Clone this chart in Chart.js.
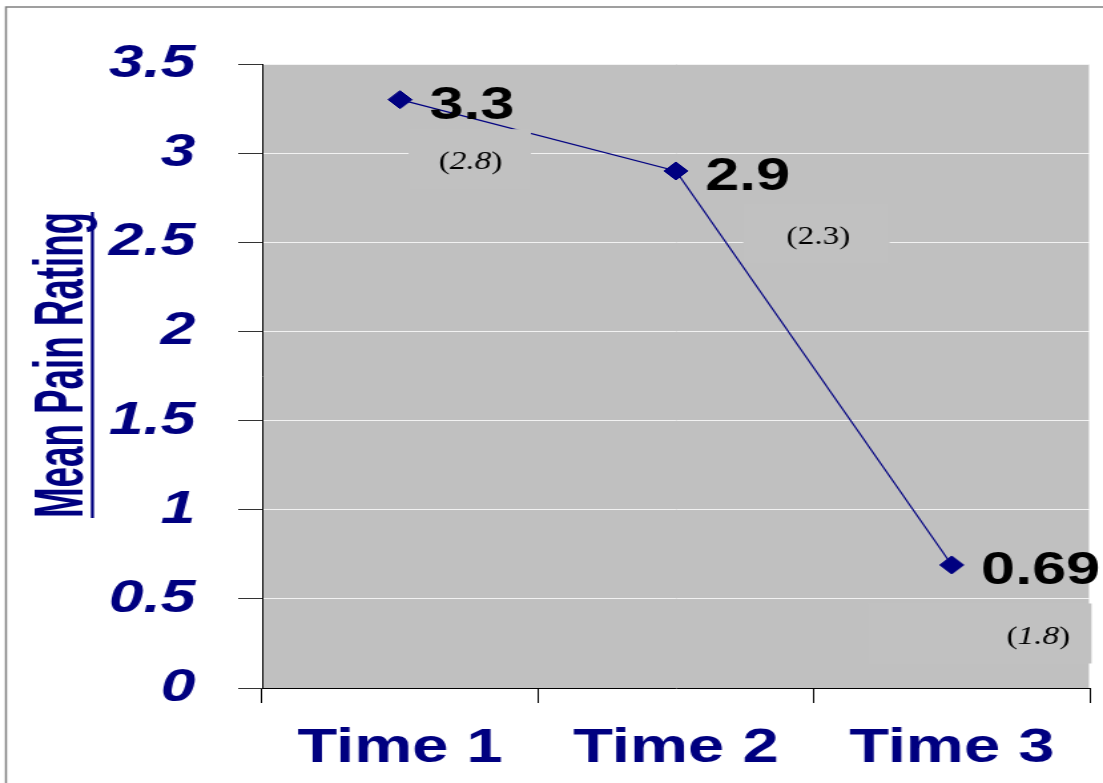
<!DOCTYPE html>
<html>
<head>
<meta charset="utf-8">
<title>Mean Pain Rating</title>
<script src="https://cdn.jsdelivr.net/npm/chart.js@4.4.1/dist/chart.umd.min.js"></script>
<style>
  html, body { margin: 0; padding: 0; background: #fff; overflow: hidden; }
  #painChart { display: block; }
</style>
</head>
<body>
<!-- the original picture is stretched sideways, so the canvas is drawn narrow and widened -->
<canvas id="painChart" width="829" height="783" style="width:1103px;height:783px"></canvas>
<script>
const categories = ['Time 1', 'Time 2', 'Time 3'];
const meanPain = [3.3, 2.9, 0.69];
const sdPain = ['2.8', '2.3', '1.8'];
const yTickLabels = ['0', '0.5', '1', '1.5', '2', '2.5', '3', '3.5'];
const yAxisTitle = 'Mean Pain Rating';

const navy = '#000080';
const sans = "'Liberation Sans', Arial, sans-serif";
const serif = "'Liberation Serif', 'Times New Roman', serif";

// white page, gray frame and the gray plot area
const frame = {
  id: 'frame',
  beforeDraw(chart) {
    const {ctx, chartArea: a} = chart;
    ctx.save();
    ctx.fillStyle = '#fff';
    ctx.fillRect(0, 0, chart.width, chart.height);
    ctx.strokeStyle = '#808080';
    ctx.lineWidth = 1.5;
    ctx.beginPath();
    ctx.moveTo(4.5, chart.height + 5);
    ctx.lineTo(4.5, 7);
    ctx.lineTo(chart.width + 5, 7);
    ctx.stroke();
    ctx.fillStyle = '#c0c0c0';
    ctx.fillRect(a.left, a.top, a.right - a.left, a.bottom - a.top);
    ctx.strokeStyle = '#e4e4e4';
    ctx.lineWidth = 1;
    ctx.beginPath();
    ctx.moveTo(a.right - 0.5, a.top);
    ctx.lineTo(a.right - 0.5, a.bottom);
    ctx.stroke();
    ctx.restore();
  }
};

// mean value next to each point, sd in brackets below it
const valueLabels = {
  id: 'valueLabels',
  afterDatasetsDraw(chart, args, opts) {
    const {ctx} = chart;
    const points = chart.getDatasetMeta(0).data;
    ctx.save();
    points.forEach((pt, i) => {
      const sd = opts.sd[i];
      const tx = pt.x + sd.dx;
      const ty = pt.y + sd.dy;

      ctx.fillStyle = '#c1c1c1';
      ctx.fillRect(tx + sd.boxLeft, ty - 33.5, sd.boxWidth, 60);

      ctx.fillStyle = '#000';
      ctx.textBaseline = 'middle';
      ctx.textAlign = 'left';
      const parts = ['(', sdPain[i], ')'];
      const fonts = ['25px ' + serif, (sd.italic ? 'italic ' : '') + '25px ' + serif, '25px ' + serif];
      let total = 0;
      const widths = parts.map((p, k) => {
        ctx.font = fonts[k];
        const w = ctx.measureText(p).width;
        total += w;
        return w;
      });
      let x = tx - total / 2;
      parts.forEach((p, k) => {
        ctx.font = fonts[k];
        ctx.fillText(p, x, ty);
        x += widths[k];
      });

      ctx.font = 'bold 46px ' + sans;
      ctx.textBaseline = 'alphabetic';
      ctx.fillText(String(meanPain[i]), pt.x + 22, pt.y + 19);
    });
    ctx.restore();
  }
};

// rotated, squeezed and underlined axis title
const yTitle = {
  id: 'yTitle',
  afterDraw(chart) {
    const {ctx, chartArea: a} = chart;
    const len = 306;
    const cy = (a.top + a.bottom) / 2 - 11;
    ctx.save();
    ctx.font = 'bold 52px ' + sans;
    const w = ctx.measureText(yAxisTitle).width;
    ctx.fillStyle = navy;
    ctx.translate(61.5, cy);
    ctx.rotate(-Math.PI / 2);
    ctx.scale(len / w, 1);
    ctx.textAlign = 'center';
    ctx.textBaseline = 'alphabetic';
    ctx.fillText(yAxisTitle, 0, 0);
    ctx.restore();
    ctx.save();
    ctx.fillStyle = navy;
    ctx.fillRect(68.3, cy - len / 2, 2.3, len);
    ctx.restore();
  }
};

new Chart(document.getElementById('painChart'), {
  type: 'line',
  data: {
    labels: categories,
    datasets: [{
      data: meanPain,
      borderColor: navy,
      borderWidth: 1.2,
      pointStyle: 'rectRot',
      pointRadius: 9,
      pointBackgroundColor: navy,
      pointBorderColor: navy,
      pointBorderWidth: 1,
      tension: 0
    }]
  },
  options: {
    responsive: false,
    animation: false,
    layout: {padding: {top: 64, right: 6, left: 0, bottom: 0}},
    plugins: {
      legend: {display: false},
      tooltip: {enabled: false},
      valueLabels: {
        sd: [
          {dx: 53, dy: 63, boxLeft: -46.6, boxWidth: 92, italic: true},
          {dx: 107, dy: 66, boxLeft: -56.4, boxWidth: 110, italic: false},
          {dx: 65, dy: 72, boxLeft: -128, boxWidth: 168, italic: true}
        ]
      }
    },
    scales: {
      x: {
        offset: true,
        grid: {offset: true, drawOnChartArea: false, drawTicks: true, tickLength: 15, tickColor: '#000', tickWidth: 1},
        border: {color: '#000', width: 1},
        ticks: {
          color: navy,
          font: {family: sans, size: 49, weight: 'bold'},
          padding: 16,
          maxRotation: 0,
          autoSkip: false
        },
        afterFit(scale) { scale.height = 95; }
      },
      y: {
        min: 0,
        max: 3.5,
        ticks: {
          stepSize: 0.5,
          color: navy,
          font: {family: sans, size: 47, weight: 'bold', style: 'italic'},
          padding: 32,
          callback: (v, i) => yTickLabels[i]
        },
        grid: {color: '#f2f2f2', lineWidth: 1, tickColor: '#333', tickLength: 18},
        border: {color: '#000', width: 1},
        afterFit(scale) { scale.width = 197; }
      }
    }
  },
  plugins: [frame, valueLabels, yTitle]
});
</script>
</body>
</html>
